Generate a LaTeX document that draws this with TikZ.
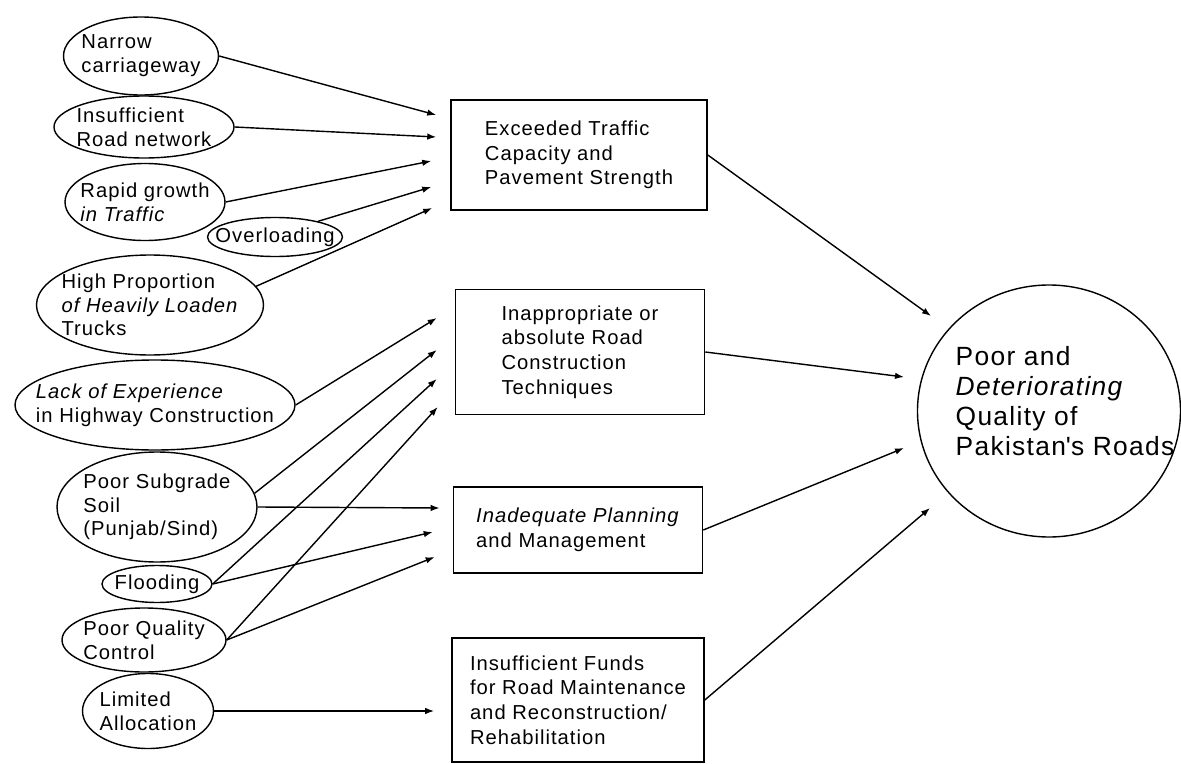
\documentclass[tikz,border=0pt]{standalone}
\usepackage{fontspec}
\setmainfont{Liberation Sans}[LetterSpace=5]
\usetikzlibrary{shapes.geometric,arrows.meta,calc}
\newcommand{\pxu}{0.02cm}

\begin{document}
\begin{tikzpicture}[x=0.02cm,y=-0.02cm,
  oval/.style={draw,ellipse,inner sep=0pt,line width=0.8pt},
  lab/.style={align=left,inner sep=0pt,font=\fontsize{11.5}{13.5}\selectfont},
  biglab/.style={align=left,inner sep=0pt,font=\fontsize{15}{17}\selectfont},
  box/.style={draw,rectangle,align=left,inner sep=0pt,line width=0.9pt,font=\fontsize{11.5}{14}\selectfont},
  arr/.style={-{Latex[length=1.8mm,width=1.3mm]},line width=0.8pt}]
\useasboundingbox (0,0) rectangle (1181,764);
% causes
\node[oval,minimum width=155*\pxu,minimum height=78*\pxu,label={[lab]center:Narrow\\carriageway}] (narrow) at (141,56) {};
\node[oval,minimum width=180*\pxu,minimum height=62*\pxu,label={[lab]center:Insufficient\\Road network}] (insuf) at (144,127) {};
\node[oval,minimum width=160*\pxu,minimum height=77*\pxu,label={[lab]center:Rapid growth\\\textit{in Traffic}}] (rapid) at (145,202) {};
\node[oval,minimum width=135*\pxu,minimum height=39*\pxu,label={[lab]center:Overloading}] (over) at (275,237) {};
\node[oval,minimum width=227*\pxu,minimum height=100*\pxu,label={[lab]center:High Proportion\\\textit{of Heavily Loaden}\\Trucks}] (heavy) at (150,305) {};
\node[oval,minimum width=280*\pxu,minimum height=90*\pxu,label={[lab]center:\textit{Lack of Experience}\\in Highway Construction}] (lack) at (155,405) {};
\node[oval,minimum width=200*\pxu,minimum height=110*\pxu,label={[lab]center:Poor Subgrade\\Soil\\(Punjab/Sind)}] (soil) at (157,507) {};
\node[oval,minimum width=110*\pxu,minimum height=37*\pxu,label={[lab]center:Flooding}] (flood) at (157,584) {};
\node[oval,minimum width=164*\pxu,minimum height=64*\pxu,label={[lab]center:Poor Quality\\Control}] (qual) at (144,640) {};
\node[oval,minimum width=131*\pxu,minimum height=75*\pxu,label={[lab]center:Limited\\Allocation}] (alloc) at (148,711) {};
% middle boxes
\node[box,minimum width=256*\pxu,minimum height=110*\pxu] (exc) at (579,155) {Exceeded Traffic\\Capacity and\\Pavement Strength};
\node[box,minimum width=249*\pxu,minimum height=125*\pxu] (tech) at (580,352) {Inappropriate or\\absolute Road\\Construction\\Techniques};
\node[box,minimum width=249*\pxu,minimum height=86*\pxu] (plan) at (578,530) {\textit{Inadequate Planning}\\and Management};
\node[box,minimum width=252*\pxu,minimum height=124*\pxu] (fund) at (578,700) {Insufficient Funds\\for Road Maintenance\\and Reconstruction/\\Rehabilitation};
% result
\node[oval,minimum width=263*\pxu,minimum height=252*\pxu,label={[biglab,xshift=0.32cm,yshift=0.2cm]center:Poor and\\\textit{Deteriorating}\\Quality of\\Pakistan\textquotesingle s Roads}] (goal) at (1049,411) {};
% connectors
\draw[arr] (narrow.east) -- ($(exc.west)+(-14,-40)$);
\draw[arr] (insuf.east) -- ($(exc.west)+(-14,-18)$);
\draw[arr] (rapid.east) -- ($(exc.west)+(-19,6)$);
\draw[arr] (over.20) -- ($(exc.west)+(-19,32)$);
\draw[arr] (heavy.10) -- ($(exc.west)+(-18,53)$);
\draw[arr] (lack.east) -- ($(tech.west)+(-18,-34)$);
\draw[arr] (soil.8) -- ($(tech.west)+(-18,-2)$);
\draw[arr] (flood.east) -- ($(tech.west)+(-18,27)$);
\draw[arr] (qual.east) -- ($(tech.west)+(-17,55)$);
\draw[arr] (soil.east) -- ($(plan.west)+(-13,-22)$);
\draw[arr] (flood.east) -- ($(plan.west)+(-20,2)$);
\draw[arr] (qual.east) -- ($(plan.west)+(-18,27)$);
\draw[arr] (alloc.east) -- ($(fund.west)+(-17,11)$);
\draw[arr] (exc.east) -- ($(goal.center)+(-118,-95)$);
\draw[arr] (tech.east) -- ($(goal.center)+(-145,-34)$);
\draw[arr] (plan.east) -- ($(goal.center)+(-145,37)$);
\draw[arr] (fund.east) -- ($(goal.center)+(-119,97)$);
\end{tikzpicture}
\end{document}
